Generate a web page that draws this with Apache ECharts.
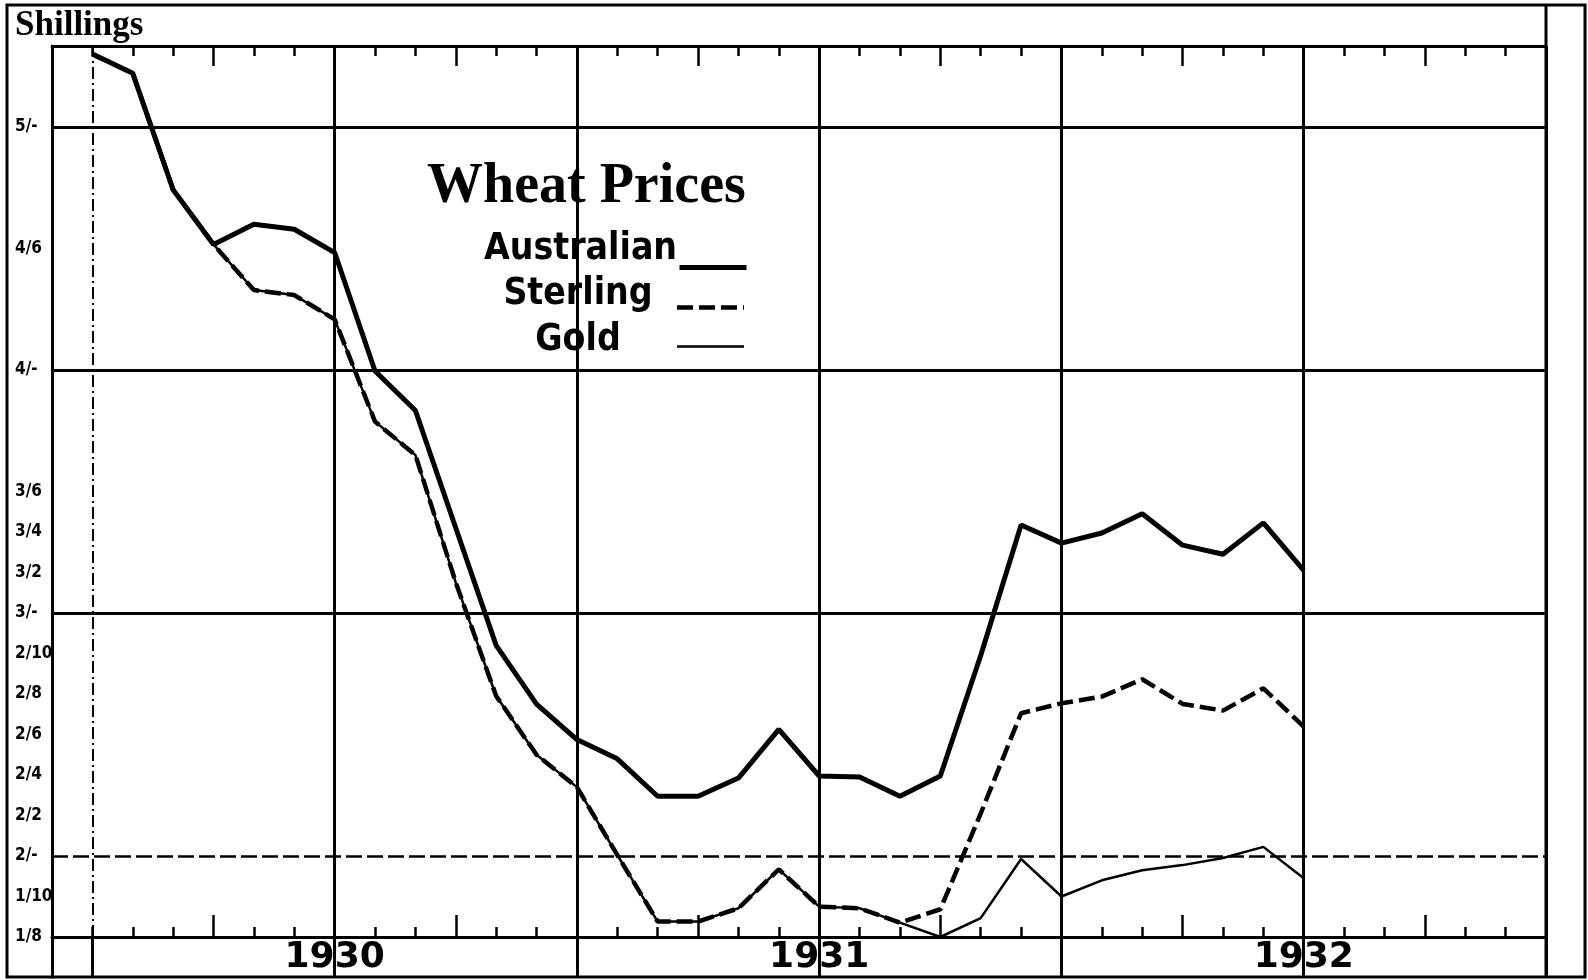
<!DOCTYPE html>
<html>
<head>
<meta charset="utf-8">
<title>Wheat Prices</title>
<script src="https://cdn.jsdelivr.net/npm/echarts@6/dist/echarts.min.js"></script>
<style>
  html, body { margin: 0; padding: 0; background: #fff; }
  #chart { width: 1588px; height: 980px; }
</style>
</head>
<body>
<div id="chart"></div>
<script>
// one category per month, Jun 1929 .. Jul 1932
const months = [
  'Jun 1929', 'Jul 1929', 'Aug 1929', 'Sep 1929', 'Oct 1929', 'Nov 1929', 'Dec 1929',
  'Jan 1930', 'Feb 1930', 'Mar 1930', 'Apr 1930', 'May 1930', 'Jun 1930',
  'Jul 1930', 'Aug 1930', 'Sep 1930', 'Oct 1930', 'Nov 1930', 'Dec 1930',
  'Jan 1931', 'Feb 1931', 'Mar 1931', 'Apr 1931', 'May 1931', 'Jun 1931',
  'Jul 1931', 'Aug 1931', 'Sep 1931', 'Oct 1931', 'Nov 1931', 'Dec 1931',
  'Jan 1932', 'Feb 1932', 'Mar 1932', 'Apr 1932', 'May 1932', 'Jun 1932', 'Jul 1932'
];

// prices in pence (12d = 1 shilling)
const australian = [
  null, 63.6, 62.65, 56.9, 54.2, 55.2, 54.95,
  53.8, 47.95, 46.0, 40.2, 34.4, 31.5,
  29.75, 28.8, 26.95, 26.95, 27.85, 30.25,
  27.95, 27.9, 26.95, 27.95, 33.9, 40.35,
  39.45, 39.95, 40.9, 39.35, 38.9, 40.45,
  38.1, null, null, null, null, null, null
];
const sterling = [
  null, 63.6, 62.65, 56.9, 54.2, 51.95, 51.7,
  50.5, 45.45, 43.8, 37.5, 31.9, 29.0,
  27.4, 24.05, 20.76, 20.76, 21.42, 23.34,
  21.5, 21.42, 20.71, 21.37, 26.1, 31.05,
  31.54, 31.87, 32.73, 31.51, 31.18, 32.28,
  30.39, null, null, null, null, null, null
];
const gold = [
  null, 63.6, 62.65, 56.9, 54.2, 51.95, 51.7,
  50.5, 45.45, 43.8, 37.5, 31.9, 29.0,
  27.4, 24.05, 20.76, 20.76, 21.42, 23.34,
  21.5, 21.42, 20.71, 20.0, 20.93, 23.85,
  22.0, 22.8, 23.3, 23.55, 23.9, 24.45,
  22.9, null, null, null, null, null, null
];

// y axis labels (pence -> shillings/pence)
const tickPence = [60, 54, 48, 42, 40, 38, 36, 34, 32, 30, 28, 26, 24, 22, 20];
const tickText = ['5/-', '4/6', '4/-', '3/6', '3/4', '3/2', '3/-', '2/10', '2/8', '2/6', '2/4', '2/2', '2/-', '1/10', '1/8'];

// horizontal rulings
const ruleSolid = [60, 48, 36];
const ruleDashed = [24];

const INK = '#000';
const NARROW = '"Liberation Sans Narrow", "DejaVu Sans Condensed", "Roboto", sans-serif';
const SERIF = '"Liberation Serif", "DejaVu Serif", serif';

const isMonth = (v, list) => list.indexOf(String(v).slice(0, 3)) >= 0;

const chart = echarts.init(document.getElementById('chart'));

const baseX = {
  type: 'category',
  data: months,
  boundaryGap: false,
  axisLine: { show: false, onZero: false },
  axisTick: { show: false },
  axisLabel: { show: false },
  splitLine: { show: false }
};
const inkLine = { color: INK, width: 3 };

// one legend box per series, so each caption can sit at its own height
const legendRows = [
  { name: 'Australian', width: 5, pad: 36, top: 231 },
  { name: 'Sterling', width: 4.5, pad: 26, top: 276 },
  { name: 'Gold', width: 2.5, pad: 12, top: 322 }
];
const legends = legendRows.map(r => ({
  data: [{ name: r.name, lineStyle: { width: r.width } }],
  orient: 'vertical',
  align: 'right',
  left: 484,
  top: r.top,
  padding: 0,
  itemWidth: 67,
  itemHeight: 14,
  selectedMode: false,
  itemStyle: { opacity: 0, borderWidth: 0 },
  formatter: name => '{c|' + name + '}',
  textStyle: {
    color: INK,
    rich: {
      c: {
        width: 188, align: 'center', fontSize: 37, lineHeight: 37,
        fontWeight: 'bold', fontFamily: NARROW, color: INK, padding: [0, 0, r.pad, 0]
      }
    }
  }
}));

chart.setOption({
  animation: false,
  backgroundColor: '#fff',
  title: [
    {
      text: 'Shillings', left: 15, top: 8, padding: 0,
      textStyle: { fontFamily: SERIF, fontWeight: 'bold', fontSize: 35, color: INK }
    },
    {
      text: 'Wheat Prices', left: 427, top: 160, padding: 0,
      textStyle: { fontFamily: SERIF, fontWeight: 'bold', fontSize: 56, color: INK }
    }
  ],
  legend: legends,
  grid: [
    { left: 52, top: 46, width: 1494, height: 891 },
    { left: 52, top: 937, width: 1494, height: 40 }
  ],
  xAxis: [
    Object.assign({}, baseX, {
      gridIndex: 0, position: 'bottom',
      axisLine: { show: true, onZero: false, lineStyle: inkLine },
      axisTick: { show: true, inside: true, length: 10, interval: 0, lineStyle: { color: INK, width: 2.5 } },
      splitLine: { show: true, interval: (i, v) => i > 1 && isMonth(v, ['Jan', 'Jul']), lineStyle: inkLine }
    }),
    Object.assign({}, baseX, {
      gridIndex: 0, position: 'bottom',
      axisTick: { show: true, inside: true, length: 22, interval: (i, v) => isMonth(v, ['Apr', 'Oct']), lineStyle: { color: INK, width: 2.5 } }
    }),
    Object.assign({}, baseX, {
      gridIndex: 0, position: 'top',
      axisLine: { show: true, onZero: false, lineStyle: inkLine },
      axisTick: { show: true, inside: true, length: 10, interval: 0, lineStyle: { color: INK, width: 2.5 } }
    }),
    Object.assign({}, baseX, {
      gridIndex: 0, position: 'top',
      axisTick: { show: true, inside: true, length: 20, interval: (i, v) => isMonth(v, ['Apr', 'Oct']), lineStyle: { color: INK, width: 2.5 } }
    }),
    Object.assign({}, baseX, {
      gridIndex: 1, position: 'top',
      axisLabel: {
        show: true, inside: true, margin: 21, verticalAlign: 'middle',
        interval: (i, v) => isMonth(v, ['Jan']),
        formatter: v => v.slice(4),
        fontFamily: '"DejaVu Sans", sans-serif', fontWeight: 'bold', fontSize: 36, color: INK
      },
      splitLine: { show: true, interval: (i, v) => i > 0 && isMonth(v, ['Jan', 'Jul']), lineStyle: inkLine }
    })
  ],
  yAxis: [
    {
      gridIndex: 0, type: 'value', min: 20, max: 64, interval: 2,
      axisLine: { show: true, onZero: false, lineStyle: inkLine },
      axisTick: { show: false },
      splitLine: { show: false },
      axisLabel: {
        show: true, align: 'left', margin: 37, verticalAlign: 'middle', padding: [0, 0, 16, 0],
        formatter: v => { const k = tickPence.indexOf(v); return k >= 0 ? tickText[k] : ''; },
        fontFamily: NARROW, fontWeight: 'bold', fontSize: 17, color: INK
      }
    },
    {
      gridIndex: 1, type: 'value', min: 0, max: 1,
      axisLine: { show: true, onZero: false, lineStyle: inkLine },
      axisTick: { show: false }, axisLabel: { show: false }, splitLine: { show: false }
    }
  ],
  series: [
    {
      name: 'Gold', type: 'line', data: gold, symbol: 'none',
      lineStyle: { color: INK, width: 2.5 },
      itemStyle: { color: INK },
      markLine: {
        silent: true, symbol: ['none', 'none'], label: { show: false },
        data: ruleSolid.map(v => ({ yAxis: v, lineStyle: { color: INK, width: 3, type: 'solid' } }))
          .concat(ruleDashed.map(v => ({ yAxis: v, lineStyle: { color: INK, width: 2.5, type: [16, 5] } })))
          .concat([{ xAxis: months[1], lineStyle: { color: INK, width: 2, type: [12, 4, 2, 4] } }])
      }
    },
    {
      name: 'Sterling', type: 'line', data: sterling, symbol: 'none',
      lineStyle: { color: INK, width: 4.5, type: [16, 6] },
      itemStyle: { color: INK }
    },
    {
      name: 'Australian', type: 'line', data: australian, symbol: 'none',
      lineStyle: { color: INK, width: 5 },
      itemStyle: { color: INK }
    }
  ],
  graphic: [
    { type: 'rect', shape: { x: 7, y: 5, width: 1578, height: 972 }, style: { fill: 'none', stroke: INK, lineWidth: 3 } },
    { type: 'line', shape: { x1: 1546, y1: 5, x2: 1546, y2: 977 }, style: { stroke: INK, lineWidth: 3 } }
  ]
});
</script>
</body>
</html>
